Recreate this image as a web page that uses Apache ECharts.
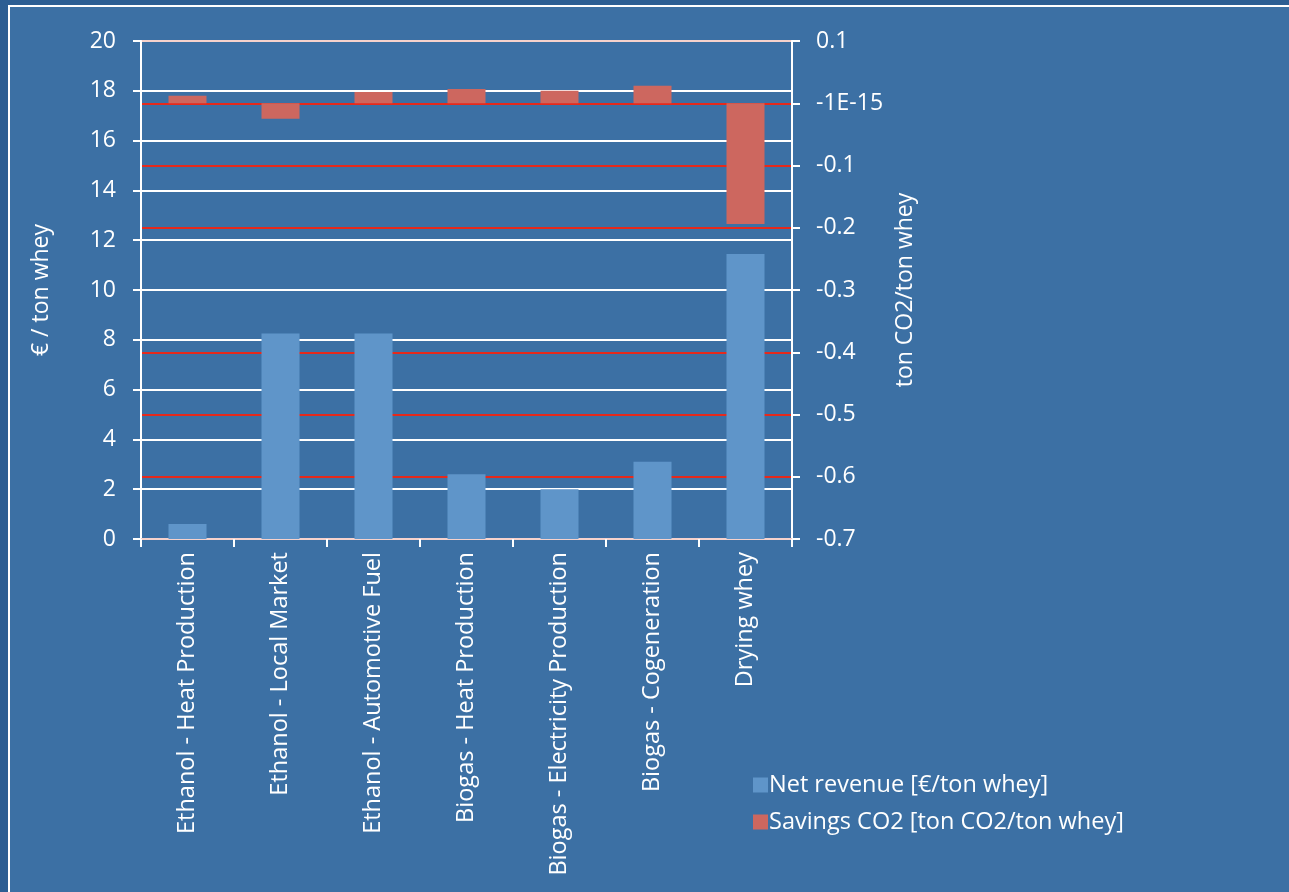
<!DOCTYPE html>
<html>
<head>
<meta charset="utf-8">
<script src="https://cdn.jsdelivr.net/npm/echarts@6/dist/echarts.min.js"></script>
<style>
  html, body { margin: 0; padding: 0; width: 1289px; height: 892px; background: #3c70a4; overflow: hidden; }
  #chart { position: absolute; left: 0; top: 0; width: 1289px; height: 892px; }
</style>
</head>
<body>
<div id="chart"></div>
<script>
// Whey valorisation options: net revenue vs. CO2 savings
const categories = [
  'Ethanol - Heat Production',
  'Ethanol - Local Market',
  'Ethanol - Automotive Fuel',
  'Biogas - Heat Production',
  'Biogas - Electricity Production',
  'Biogas - Cogeneration',
  'Drying whey'
];
const netRevenue = [0.6, 8.25, 8.25, 2.6, 2.0, 3.1, 11.45];
const co2Savings = [0.012, -0.025, 0.018, 0.023, 0.020, 0.028, -0.194];
const seriesNames = ['Net revenue [€/ton whey]', 'Savings CO2 [ton CO2/ton whey]'];
const leftAxisName = '€ / ton whey';
const rightAxisName = 'ton CO2/ton whey';

const FONT = '"Open Sans", "Noto Sans", sans-serif';
const RED = '#e6291b';
const EDGE = '#f6d2cc';
const chart = echarts.init(document.getElementById('chart'), null, { renderer: 'canvas' });

chart.setOption({
  animation: false,
  backgroundColor: '#2c5e93',
  textStyle: { fontFamily: FONT, color: '#ffffff' },
  // slide panel with its white top/left border
  graphic: [
    {
      type: 'rect', z: -100, silent: true,
      shape: { x: 9, y: 6, width: 1400, height: 1000 },
      style: { fill: '#3c70a4', stroke: '#ffffff', lineWidth: 2 }
    }
  ],
  grid: { left: 141, right: 497, top: 41, bottom: 353, containLabel: false },
  legend: {
    orient: 'vertical',
    left: 748,
    top: 768,
    itemWidth: 15,
    itemHeight: 15,
    itemGap: 13,
    icon: 'rect',
    textStyle: { color: '#ffffff', fontSize: 23.5, lineHeight: 24, fontFamily: FONT, padding: [0, 0, 0, -4] },
    data: seriesNames
  },
  xAxis: {
    type: 'category',
    data: categories,
    axisLine: { lineStyle: { color: EDGE, width: 2 } },
    axisTick: { show: true, alignWithLabel: false, length: 8, lineStyle: { color: '#ffffff', width: 2 } },
    axisLabel: { rotate: 90, color: '#ffffff', fontSize: 23.5, margin: 13, fontFamily: FONT }
  },
  yAxis: [
    {
      type: 'value', min: 0, max: 20, interval: 2, position: 'left',
      name: leftAxisName, nameLocation: 'middle', nameGap: 88, nameRotate: 90,
      nameTextStyle: { color: '#ffffff', fontSize: 23, fontFamily: FONT },
      axisLine: { show: true, lineStyle: { color: '#ffffff', width: 2 } },
      axisTick: { show: true, length: 8, lineStyle: { color: '#ffffff', width: 2 } },
      axisLabel: { color: '#ffffff', fontSize: 23, margin: 25, fontFamily: FONT },
      splitLine: { show: true, lineStyle: { color: '#ffffff', width: 2 } }
    },
    {
      type: 'value', min: -0.7, max: 0.1, interval: 0.1, position: 'right',
      name: rightAxisName, nameLocation: 'middle', nameGap: 102, nameRotate: 90,
      nameTextStyle: { color: '#ffffff', fontSize: 23, fontFamily: FONT },
      axisLine: { show: true, lineStyle: { color: '#ffffff', width: 2 } },
      axisTick: { show: true, length: 8, lineStyle: { color: '#ffffff', width: 2 } },
      axisLabel: {
        color: '#ffffff', fontSize: 23, margin: 24, fontFamily: FONT,
        formatter: v => Math.abs(v) < 1e-9 ? '-1E-15' : (Math.round(v * 10) / 10).toFixed(1)
      },
      // lines from -0.7 up to 0.1; those lying on a white grid line are left out
      splitLine: {
        show: true,
        lineStyle: {
          color: [EDGE, RED, RED, RED, 'rgba(0,0,0,0)', RED, RED, RED, EDGE],
          width: 2
        }
      }
    }
  ],
  series: [
    {
      name: seriesNames[0], type: 'bar', yAxisIndex: 0, data: netRevenue,
      barWidth: 38, barGap: '-100%',
      itemStyle: { color: '#5f95c9' }
    },
    {
      name: seriesNames[1], type: 'bar', yAxisIndex: 1, data: co2Savings,
      barWidth: 38, barGap: '-100%',
      itemStyle: { color: '#cd675f' }
    }
  ]
});
</script>
</body>
</html>
